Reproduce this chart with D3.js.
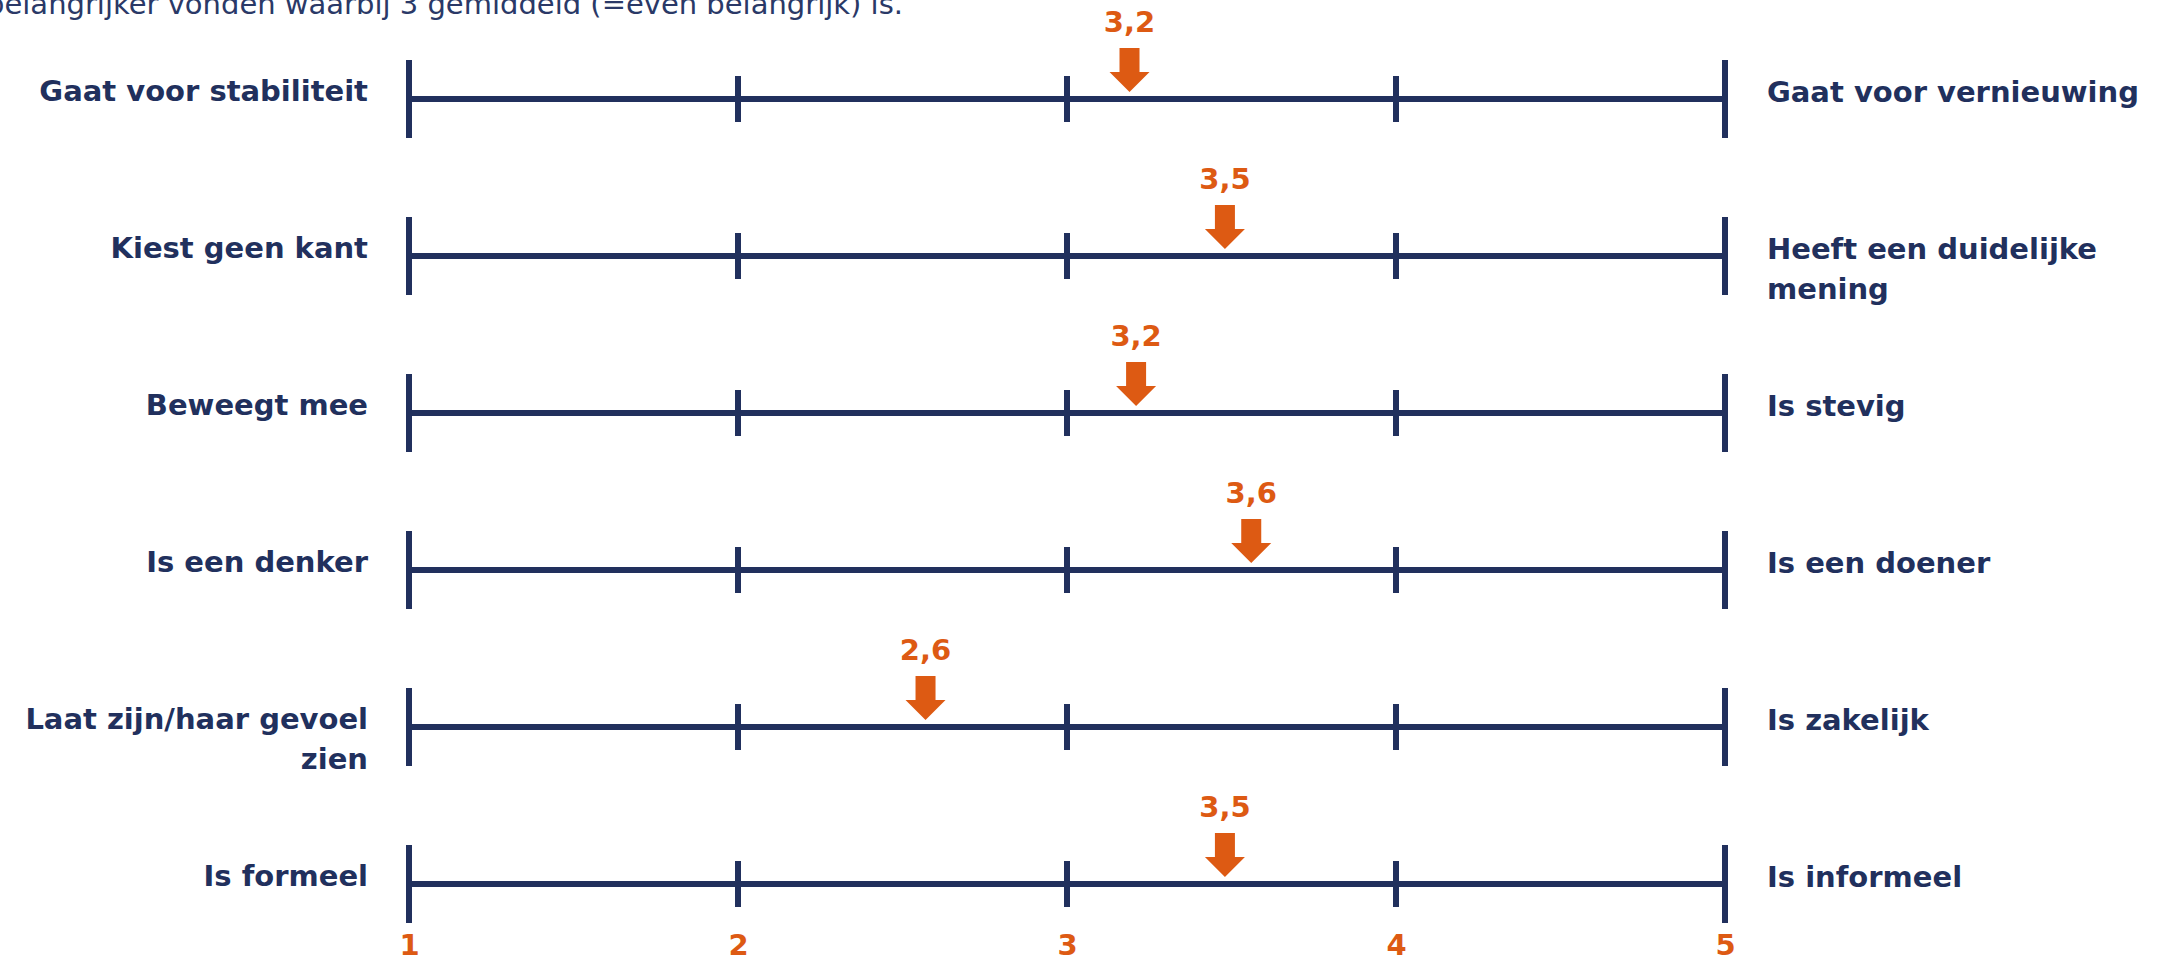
<!DOCTYPE html>
<html>
<head>
<meta charset="utf-8">
<script src="https://cdn.jsdelivr.net/npm/d3@7"></script>
<style>
  html, body { margin: 0; padding: 0; background: #ffffff; }
  svg { display: block; }
</style>
</head>
<body>
<svg id="chart" width="2165" height="959"></svg>
<script>
// ---- data ----
const titleText = "belangrijker vonden waarbij 3 gemiddeld (=even belangrijk) is.";
const leftLabels = [
  ["Gaat voor stabiliteit"],
  ["Kiest geen kant"],
  ["Beweegt mee"],
  ["Is een denker"],
  ["Laat zijn/haar gevoel", "zien"],
  ["Is formeel"]
];
const rightLabels = [
  ["Gaat voor vernieuwing"],
  ["Heeft een duidelijke", "mening"],
  ["Is stevig"],
  ["Is een doener"],
  ["Is zakelijk"],
  ["Is informeel"]
];
const meanValues = [3.19, 3.48, 3.21, 3.56, 2.57, 3.48];
const scaleTicks = [1, 2, 3, 4, 5];

// ---- style ----
const navy = "#21305d";
const orange = "#dd5a13";
const font = "'DejaVu Sans', Verdana, sans-serif";
const fs = 29;

const svg = d3.select("#chart");
const rows = d3.range(leftLabels.length);

const x = d3.scaleLinear().domain([1, 5]).range([409, 1725]);
const y = d3.scalePoint().domain(rows).range([99, 884]);
const fmt = v => d3.format(".1f")(v).replace(".", ",");

// title (cut off at top-left as in the source)
svg.append("text")
  .attr("x", 903).attr("y", 14)
  .attr("text-anchor", "end")
  .attr("font-family", font).attr("font-size", fs)
  .attr("fill", "#2a3967")
  .text(titleText);

const g = svg.selectAll("g.row").data(rows).join("g")
  .attr("class", "row")
  .attr("transform", d => `translate(0,${y(d)})`);

// main line
g.append("line")
  .attr("x1", x(1)).attr("x2", x(5))
  .attr("stroke", navy).attr("stroke-width", 6);

// ticks
g.selectAll("line.tick").data(scaleTicks).join("line")
  .attr("class", "tick")
  .attr("x1", d => x(d)).attr("x2", d => x(d))
  .attr("y1", d => (d === 1 || d === 5) ? -39 : -23)
  .attr("y2", d => (d === 1 || d === 5) ? 39 : 23)
  .attr("stroke", navy).attr("stroke-width", 6);

// left labels
g.append("text")
  .attr("x", 368).attr("y", 2)
  .attr("text-anchor", "end")
  .attr("font-family", font).attr("font-size", fs).attr("font-weight", "bold")
  .attr("fill", navy)
  .selectAll("tspan").data(d => leftLabels[d]).join("tspan")
  .attr("x", 368).attr("dy", (d, i) => i === 0 ? 0 : 40)
  .text(d => d);

// right labels
g.append("text")
  .attr("x", 1767).attr("y", 3)
  .attr("text-anchor", "start")
  .attr("font-family", font).attr("font-size", fs).attr("font-weight", "bold")
  .attr("fill", navy)
  .selectAll("tspan").data(d => rightLabels[d]).join("tspan")
  .attr("x", 1767).attr("dy", (d, i) => i === 0 ? 0 : 40)
  .text(d => d);

// arrows
g.append("path")
  .attr("fill", orange)
  .attr("d", d => {
    const cx = x(meanValues[d]);
    return `M${cx - 10},-51 L${cx + 10},-51 L${cx + 10},-27 L${cx + 20},-27 L${cx},-7 L${cx - 20},-27 L${cx - 10},-27 Z`;
  });

// value labels
g.append("text")
  .attr("x", d => x(meanValues[d])).attr("y", -67)
  .attr("text-anchor", "middle")
  .attr("font-family", font).attr("font-size", fs).attr("font-weight", "bold")
  .attr("fill", orange)
  .text(d => fmt(meanValues[d]));

// bottom scale labels via axis
const axis = d3.axisBottom(x).tickValues(scaleTicks).tickSize(0).tickPadding(0).tickFormat(d3.format("d"));
const ax = svg.append("g").attr("transform", "translate(0,934)").call(axis);
ax.select(".domain").remove();
ax.selectAll("text")
  .attr("dy", "0.72em")
  .attr("font-family", font).attr("font-size", fs).attr("font-weight", "bold")
  .attr("fill", orange);
</script>
</body>
</html>
